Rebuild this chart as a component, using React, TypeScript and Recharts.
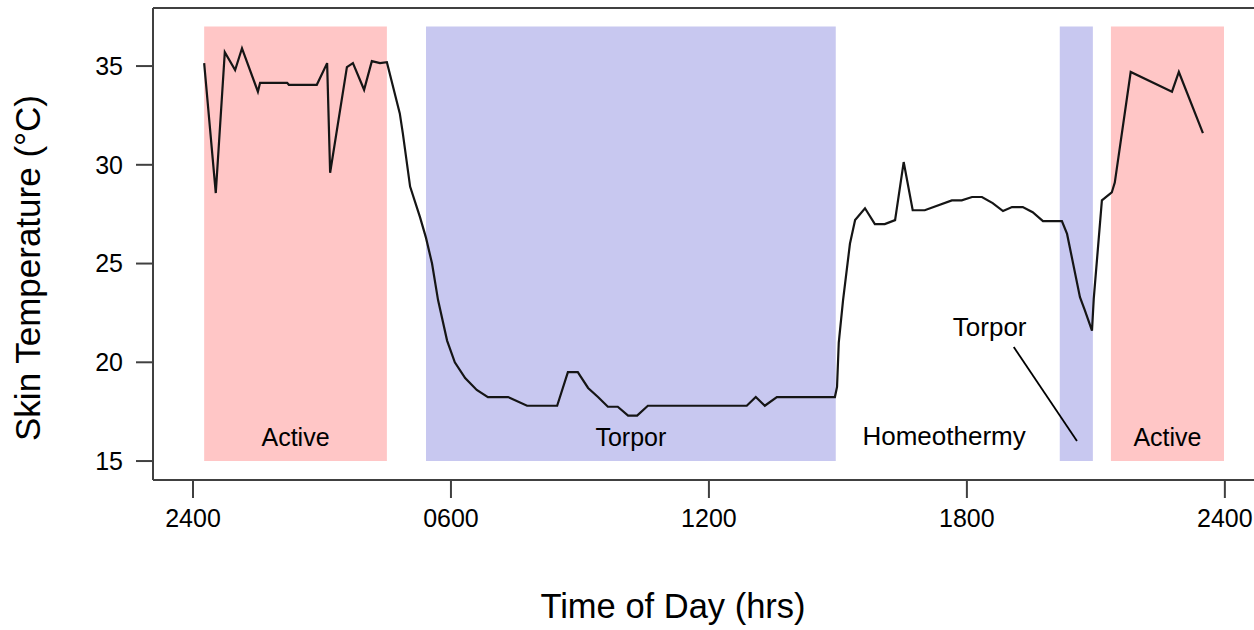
import React from 'react';
import {
  LineChart,
  Line,
  XAxis,
  YAxis,
  ReferenceArea,
  ReferenceLine,
  ReferenceDot,
  Label,
} from 'recharts';

// Time of day (hours after midnight) and skin temperature (°C)
const hours = [
  0.26, 0.53, 0.74, 0.98, 1.14, 1.51, 1.56, 2.19, 2.23, 2.88, 3.12, 3.19, 3.58, 3.72, 3.98,
  4.16, 4.35, 4.51, 4.81, 4.88, 5.05, 5.28, 5.42, 5.56, 5.7, 5.91, 6.09, 6.33, 6.6, 6.86,
  7.33, 7.77, 8.47, 8.72, 8.95, 9.19, 9.42, 9.65, 9.88, 10.12, 10.33, 10.58, 12.88, 13.09,
  13.3, 13.58, 14.93, 14.98, 15.02, 15.12, 15.28, 15.4, 15.63, 15.86, 16.09, 16.33, 16.53,
  16.74, 17.02, 17.65, 17.88, 18.12, 18.35, 18.6, 18.84, 19.05, 19.3, 19.53, 19.77, 20.21,
  20.33, 20.63, 20.74, 20.91, 20.95, 21.14, 21.37, 21.44, 21.81, 22.77, 22.93, 23.49,
];
const skinTemp = [
  35.15, 28.57, 35.7, 34.8, 35.9, 33.7, 34.15, 34.15, 34.05, 34.05, 35.15, 29.6, 34.95, 35.15,
  33.8, 35.25, 35.15, 35.2, 32.6, 31.6, 28.9, 27.35, 26.3, 25.0, 23.15, 21.1, 20.0, 19.2, 18.6,
  18.24, 18.24, 17.8, 17.8, 19.5, 19.5, 18.7, 18.24, 17.75, 17.75, 17.3, 17.3, 17.8, 17.8,
  18.24, 17.8, 18.24, 18.24, 18.75, 21.0, 23.15, 26.0, 27.2, 27.8, 27.0, 27.0, 27.2, 30.14,
  27.7, 27.7, 28.2, 28.2, 28.37, 28.37, 28.06, 27.66, 27.86, 27.86, 27.6, 27.15, 27.15, 26.5,
  23.3, 22.65, 21.6, 23.2, 28.2, 28.6, 29.1, 34.7, 33.7, 34.7, 31.6,
];

// Axis ticks
const xTicks = [0, 6, 12, 18, 24];
const xTickLabels = ['2400', '0600', '1200', '1800', '2400'];
const yTicks = [15, 20, 25, 30, 35];
const xDomain = [-0.93, 25.05];
const yDomain = [14.04, 37.94];

// Behavioural phases (shaded bands)
const phaseStart = [0.26, 5.42, 20.16, 21.35];
const phaseEnd = [4.51, 14.95, 20.93, 23.98];
const phaseType = ['Active', 'Torpor', 'Torpor', 'Active'];
const phaseLabel = ['Active', 'Torpor', '', 'Active'];
const bandBottom = 15;
const bandTop = 37;

// Free annotations (data coordinates)
const homeoLabel = { h: 17.47, t: 15.81, text: 'Homeothermy' };
const torporCallout = { h: 18.53, t: 21.33, text: 'Torpor' };
const pointer = [
  { x: 19.09, y: 20.77 },
  { x: 20.56, y: 16.01 },
];

const data = hours.map((h, i) => ({ h, t: skinTemp[i] }));

const FONT = '"Liberation Sans", Arial, Helvetica, sans-serif';
const AXIS = '#404040';
const bandColor: Record<string, string> = { Active: '#FFC6C6', Torpor: '#C8C8F0' };

export default function App() {
  return (
    <div
      style={{
        position: 'absolute',
        left: 0,
        top: 0,
        width: 1254,
        height: 630,
        overflow: 'hidden',
        background: '#fff',
      }}
    >
      <LineChart
        width={1270}
        height={630}
        data={data}
        margin={{ top: 8, right: 0, bottom: 0, left: 0 }}
      >
        {phaseStart.map((s, i) => (
          <ReferenceArea
            key={i}
            x1={s}
            x2={phaseEnd[i]}
            y1={bandBottom}
            y2={bandTop}
            fill={bandColor[phaseType[i]]}
            fillOpacity={1}
            stroke="none"
            ifOverflow="visible"
          >
            {phaseLabel[i] ? (
              <Label
                value={phaseLabel[i]}
                position="insideBottom"
                offset={15}
                fontSize={25}
                fontFamily={FONT}
                fill="#000"
              />
            ) : null}
          </ReferenceArea>
        ))}
        <XAxis
          dataKey="h"
          type="number"
          domain={xDomain}
          ticks={xTicks}
          interval={0}
          allowDataOverflow
          height={150}
          tickFormatter={(v: number) => xTickLabels[xTicks.indexOf(v)] ?? ''}
          tick={{ fontSize: 25, fill: '#000', fontFamily: FONT }}
          tickSize={18}
          tickMargin={11}
          axisLine={{ stroke: AXIS, strokeWidth: 2 }}
          tickLine={{ stroke: AXIS, strokeWidth: 2 }}
        >
          <Label
            content={() => (
              <text
                x={673}
                y={618}
                textAnchor="middle"
                fontSize={34.5}
                fontFamily={FONT}
                fill="#000"
              >
                Time of Day (hrs)
              </text>
            )}
          />
        </XAxis>
        <YAxis
          type="number"
          domain={yDomain}
          ticks={yTicks}
          interval={0}
          allowDataOverflow
          width={153}
          tick={{ fontSize: 25, fill: '#000', fontFamily: FONT }}
          tickSize={17}
          tickMargin={13}
          axisLine={{ stroke: AXIS, strokeWidth: 2 }}
          tickLine={{ stroke: AXIS, strokeWidth: 2 }}
        >
          <Label
            content={() => (
              <text
                x={40}
                y={268}
                transform="rotate(-90, 40, 268)"
                textAnchor="middle"
                fontSize={35}
                fontFamily={FONT}
                fill="#000"
              >
                Skin Temperature (°C)
              </text>
            )}
          />
        </YAxis>
        <ReferenceLine
          y={yDomain[1]}
          stroke={AXIS}
          strokeWidth={2}
          ifOverflow="visible"
        />
        <ReferenceDot
          x={homeoLabel.h}
          y={homeoLabel.t}
          r={0.5}
          fill="none"
          stroke="none"
          ifOverflow="visible"
        >
          <Label
            value={homeoLabel.text}
            position="top"
            offset={0}
            fontSize={26}
            fontFamily={FONT}
            fill="#000"
          />
        </ReferenceDot>
        <ReferenceDot
          x={torporCallout.h}
          y={torporCallout.t}
          r={0.5}
          fill="none"
          stroke="none"
          ifOverflow="visible"
        >
          <Label
            value={torporCallout.text}
            position="top"
            offset={0}
            fontSize={26}
            fontFamily={FONT}
            fill="#000"
          />
        </ReferenceDot>
        <ReferenceLine
          segment={pointer}
          stroke="#000"
          strokeWidth={1.8}
          ifOverflow="visible"
        />
        <Line
          type="linear"
          dataKey="t"
          stroke="#151515"
          strokeWidth={2.2}
          dot={false}
          activeDot={false}
          isAnimationActive={false}
        />
      </LineChart>
    </div>
  );
}
